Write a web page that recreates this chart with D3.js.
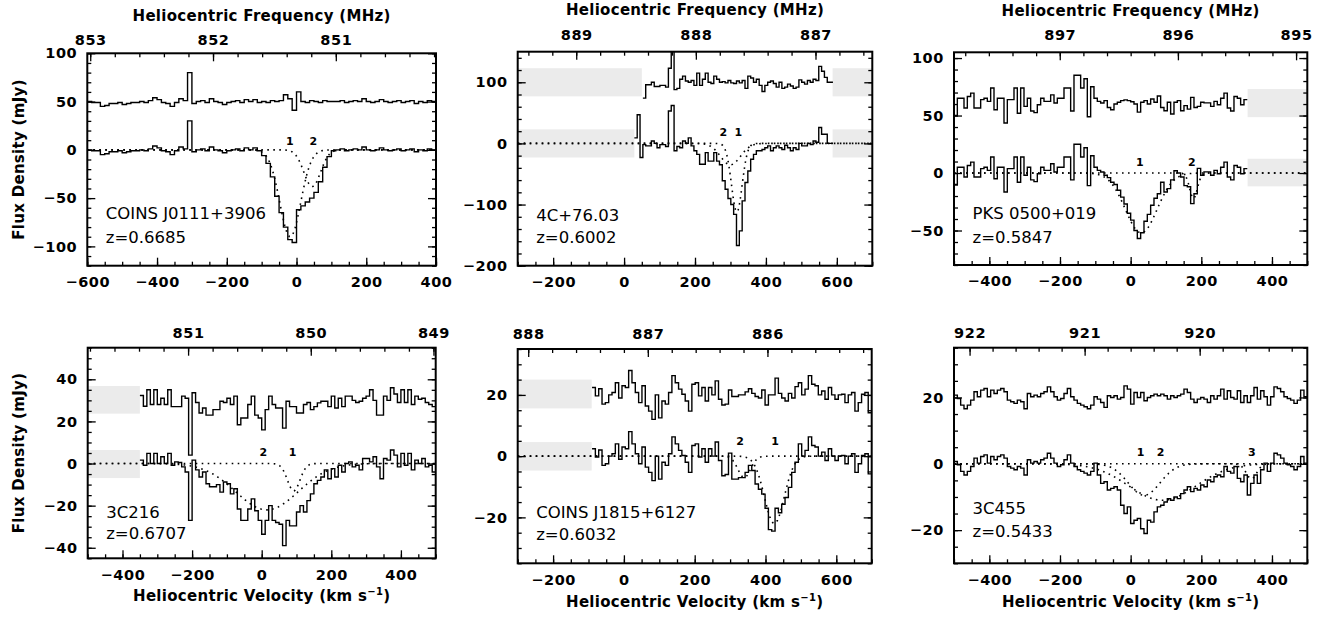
<!DOCTYPE html>
<html>
<head>
<meta charset="utf-8">
<script src="https://cdn.jsdelivr.net/npm/d3@7"></script>
<style>
  body { margin: 0; background: #fff; }
  svg { display: block; font-family: "DejaVu Sans", sans-serif; }
  .tick text { font-family: "DejaVu Sans", sans-serif; font-weight: bold; font-size: 14.5px; letter-spacing: 0.6px; fill: #000; }
  .tick line { stroke: #000; stroke-width: 1.3; }
  .axisTitle { font-weight: bold; font-size: 15px; letter-spacing: 0.3px; }
  .srcText { font-size: 16.5px; }
  .compText { font-weight: bold; font-size: 11px; }
</style>
</head>
<body>
<div id="chart"></div>
<script>
// HI ABSORPTION SPECTRA, SIX PANELS

// 1. Data (flux in mJy, channels in km/s)
var lightSpeed = 299792.458;

// Panel 1: COINS J0111+3906
var p1Start = -600;
var p1Chan = 12.5;
var p1Spectrum = [0,-1,-1,-5,-4,-2,-2,-1,-3,-2, -1,-1,0,-1,1,4,2,-1,-2,-5, -1,3,1,30,-2,0,1,-1,3,0,
  -1,-3,-1,0,1,-1,2,0,2,-1, -6,-14,-28,-48,-65,-80,-93,-96,-62,-58, -54,-50,-44,-33,-18,-7,-1,0,1,-1,
  0,1,0,3,0,-1,0,2,0,-1, 0,1,-1,0,1,-2,0,-1,1,0];
var p1Residual = [0,-1,-1,-5,-4,-2,-2,-1,-3,-2, -1,-1,0,-1,1,4,2,-1,-2,-5, -1,3,1,30,-2,0,1,-1,3,0,
  -1,-3,-1,0,1,-1,2,0,2,-1, 0,-1,1,0,1,7,3,-9,10,0, -1,1,0,-1,1,0,0,0,1,-1,
  0,1,0,3,0,-1,0,2,0,-1, 0,1,-1,0,1,-2,0,-1,1,0];
var p1FitCentre = [-18, 45];
var p1FitDepth = [-90, -38];
var p1FitSigma = [30, 24];
var p1Comps = ["1", "2"];
var p1CompVel = [-19, 48];
var p1Blanked = [];

// Panel 2: 4C+76.03
var p2Start = 29;
var p2Chan = 8;
var p2Spectrum = [9,47,-23,-2,-4,-4,4,0,-7,-2, -2,-5,53,62,-12,-5,-7,4,0,9, -4,-12,-18,-34,-34,-15,-29,-29,-15,-29,
  -35,-61,-75,-90,-100,-116,-167,-143,-94,-64, -45,-26,-18,-12,-12,-10,-7,-4,-12,-7,
  -4,-7,-10,-3,-7,-12,-7,-10,0,-4, -4,0,-2,4,2,26,15,15,0,0];
var p2Residual = [null,null,null,-26,-4,-4,0,-7,-7,-5, -5,-8,23,60,-12,-10,5,10,2,0, 3,-5,15,-5,5,15,0,-2,10,5,
  0,1,-1,3,-1,-2,2,-1,3,-10, 10,7,0,5,-5,-15,-5,0,2,-2,
  -8,0,-10,-8,-3,-6,-10,-8,4,0, -3,3,0,5,3,26,18,8,0,0];
var p2FitCentre = [318, 300];
var p2FitDepth = [-112, -35];
var p2FitSigma = [15, 28];
var p2Comps = ["2", "1"];
var p2CompVel = [280, 322];
var p2Blanked = [[-300, 50, 77, 123], [-300, 29, -23, 23], [588, 700, 77, 123], [588, 700, -23, 23]];

// Panel 3: PKS 0500+019
var p3Start = -500;
var p3Chan = 9.434;
var p3Spectrum = [-10,5,5,-3.5,6.6,9.5,-3.5,-3.5,3.8,5, 2.3,14,-5,5,5,-16.5,3.8,3.8,14,-8,
  14,-2,5,-6,-7.5,-0.6,5,2.3,2.3,8, 0.9,5,5,14,14,-6,25,25,14,22,
  -11,15,5,2.3,0.9,-2,-4,-8,-10,-15, -21,-27,-35,-41,-50,-57,-52,-42,-36,-28,
  -22,-18,-8,-16.5,-13.6,-6,2,0,-3.5,-11, -12,-26.6,-18,4,-2,1,1,-2,2.3,-0.6,
  5,9.5,-3.5,-6,6.6,5,-0.6,3.8];
var p3Residual = [-10,5,5,-3.5,6.6,9.5,-3.5,-3.5,3.8,5, 2.3,14,-5,5,5,-16.5,3.8,3.8,14,-8,
  14,-2,5,-6,-7.5,-0.6,5,2.3,2.3,8, 0.9,5,5,14,14,-6,25,25,14,22,
  -11,15,5,2.3,0.9,3,-3,-5,0,1.5, 3,3.6,3,2,0,-7,1.5,3,0,4.4,
  1.5,7,-3,-5.8,1.5,-8.6,1.5,3,-5.8,-1.4, -4.4,5.8,-3,-2,1.5,1,1,-2,2.3,-0.6,
  5,9.5,-3.5,-6,6.6,5,-0.6,3.8];
var p3FitCentre = [30, 178];
var p3FitDepth = [-52, -22];
var p3FitSigma = [45, 11];
var p3Comps = ["1", "2"];
var p3CompVel = [26, 173];
var p3Blanked = [[331, 500, 48.6, 73], [331, 500, -11.6, 12.4]];

// Panel 4: 3C216
var p4Start = -350;
var p4Chan = 10;
var p4Spectrum = [1.6,-0.8,4.8,0,4.8,0,3.2,0,4.8,-0.8, 0.8,0.5,-1.6,-4,-27,1.6,-3,-6.4,-4,-9.6,
  -11,-11,-10,-13.6,-8.8,-9.6,-14.4,-12,-21.6,-27, -27,-21.6,-16.8,-22.4,-27,-33.6,-27,-20,-27,-28,
  -28.8,-39,-27,-29.6,-29.6,-23,-20,-23,-17.6,-14.4, -9.6,-8,-6.4,-3,-7.2,-2.4,-6.4,-0.8,-4,0,
  0.8,-1.6,-0.8,-3,2.4,2.4,0.8,3.2,-1.6,-7.2, 2.4,1.6,6.4,4,-1.6,4.8,-0.8,4.8,-3,1.6,
  0,2.4,-1.6,-0.8,-4];
var p4Residual = [2.3,-2.8,5,-2,5,-2,1,-2,5,-3, -3,-3,2,1,-26,3.6,-1,-6,-3.6,-7,
  -7,-4.4,-4.4,-0.4,-1,1,-2,2,-11.6,-8.4, -8.4,-2,2,-7,-8.4,-14,-4.4,2,-2,-3.6,
  -3.6,-13.2,-0.4,-3,-3,-6,-6,-2,-1,-4.4, -3,-1.2,-0.4,-0.4,-3,2,-3.6,1,-3,2,
  2,0,-1,-0.4,1,2,5,0,-7,-7, 2,0,6,3,-1,5,-1,5,-2,2,
  0.5,1,-1,-2,-3];
var p4FitCentre = [92, 15];
var p4FitDepth = [-13, -22];
var p4FitSigma = [18, 90];
var p4Comps = ["2", "1"];
var p4CompVel = [5, 89];
var p4Blanked = [[-500, -350, 23.7, 36.8], [-500, -350, -6.9, 6.4]];

// Panel 5: COINS J1815+6127
var p5Start = -90;
var p5Chan = 9.4;
var p5Spectrum = [2.4,-0.3,2,-3,-2.5,0,0.8,4,-1,3, 2.4,8,4,0.8,-2.5,3,-3.6,-5.3,-8,0,
  -7.5,-2,-3,0.8,6.3,4,1.9,0.2,-2,-5.3, 3.5,4,-0.3,2.4,-2,2.4,0,4.6,-1.4,-6.4,
  -6,1,-7.5,-7.5,-7,-7,-5.3,-3,-4.7,-9.1, -10.8,-12.4,-17,-24,-24.5,-17,-18.5,-15.7,-13.5,-10.2,
  -5.3,-2,4,0,1.9,6.3,3.5,3,0,1.3, -1.4,2.4,0,-1.4,0,0.2,-2.5,0,0.8,-5.3,
  -2.5,0.2,0.8,-5.8];
var p5Residual = [2.4,-0.3,2,-3,-2.5,0,0.8,4,-1,3, 2.4,8,4,0.8,-2.5,3,-3.6,-5.3,-8,0,
  -7.5,-2,-3,0.8,6.3,4,1.9,0.2,-2,-5.3, 3.5,4,-0.3,2.4,-2,2.4,0,4.6,-1.4,-3.3,
  -3,1.6,-0.5,-0.5,0,0,1,2,0.5,-0.5, -1,1.6,-3.3,0,0,5.5,0.5,-1,-2,0.5,
  -1,2.7,4,0,1.9,6.3,3.5,3,0,1.3, -1.4,2.4,0,-1.4,0,0.2,-2.5,0,0.8,-5.3,
  -2.5,0.2,0.8,-5.8];
var p5FitCentre = [425, 340];
var p5FitDepth = [-22, -7];
var p5FitSigma = [28, 18];
var p5Comps = ["2", "1"];
var p5CompVel = [328, 427];
var p5Blanked = [[-300, -91, 15.6, 25], [-300, -91, -4.7, 4.6]];

// Panel 6: 3C455
var p6Start = -500;
var p6Chan = 9.434;
var p6Spectrum = [0.7,-0.3,-2.3,-3.4,-2.3,-0.8,1.7,0.2,2.2,2.7, 0.2,2.2,1.2,2.2,2.7,1.7,-0.8,-1.3,-1.8,-0.8,
  -1.3,-3.4,1.2,0.2,0.7,0.2,1.2,1.7,3.2,1.7, 0.2,-0.8,-0.3,1.2,2.7,0.2,-0.8,-1.8,-2.3,-2.8,
  -3.4,-2.3,0.2,-3.4,-5.9,-5.4,-7.9,-7.4,-6.9,-7.9, -12.5,-15,-13,-18,-17,-16.5,-19.6,-21,-17,-17.6,
  -14.5,-13,-12.5,-11.5,-10.5,-11,-10,-10.5,-9,-7.9, -6.9,-8.4,-7.4,-7.9,-6.4,-6.9,-4.9,-5.4,-3.9,-3.4,
  -3.9,-0.8,-2.3,-2.8,-0.8,-4.4,-5.4,-3.4,-9.4,-5.9, -3.4,-5.9,-1.8,0.2,-2.3,0.2,3.2,2.7,1.7,0.2,
  -0.3,-0.8,-1.8,-0.8,2.2,0.2];
var p6Residual = [0.7,-0.3,-2.3,-3.4,-2.3,-0.8,1.7,0.2,2.2,2.7, 0.2,2.2,1.2,2.2,2.7,1.7,-0.8,-1.3,-1.8,-0.8,
  -1.3,-3.4,1.2,0.2,0.7,0.2,1.2,1.7,3.2,1.7, 0.2,-0.8,-0.3,1.2,2.7,0.2,-0.8,-1.8,-2.3,-2.8,
  -3.4,-2.3,0.2,-0.5,-1.5,-3,0.5,0,0.5,-0.5, 0,3.5,2.5,-2,1.5,0,1.5,-1,0,0.5,
  1,0.5,1,0.5,-0.5,0.5,0,0.5,1,2.5, 1.5,-0.5,-1.5,-0.5,0,-0.5,-1.5,0.5,-0.5,0.5,
  2.5,-0.5,2,0,-0.5,2,-1.5,0.5,-1.5,0.5, 3,-0.5,2,0.2,-2.3,0.2,3.2,2.7,1.7,0.2,
  -0.3,-0.8,-1.8,-0.8,2.2,0.2];
var p6FitCentre = [38, 90, 342];
var p6FitDepth = [-9.5, -11, -4.5];
var p6FitSigma = [45, 95, 15];
var p6Comps = ["1", "2", "3"];
var p6CompVel = [28, 85, 343];
var p6Blanked = [];

// 2. Panel layout (frame = left, top, right, bottom in px)
var panels = [
  { id: 1, name: "COINS J0111+3906", z: "z=0.6685", frame: [87.3, 53.3, 436, 265.7],
    vel: [-600, 400], flux: [-120, 100], yMajor: 50, yMinor: 10, restFreq: 851.32, offset: 50,
    start: p1Start, chan: p1Chan, spec: p1Spectrum, resid: p1Residual,
    cen: p1FitCentre, depth: p1FitDepth, sig: p1FitSigma, comps: p1Comps, compVel: p1CompVel, compFlux: 9.3,
    blanked: p1Blanked, topPad: 8.5, nameY: 218.8, zY: 242.8, topTitle: 15, yTitle: true },
  { id: 2, name: "4C+76.03", z: "z=0.6002", frame: [517.7, 51.7, 872.3, 265.7],
    vel: [-300, 700], flux: [-200, 150], yMajor: 100, yMinor: 20, restFreq: 888.60, offset: 100,
    start: p2Start, chan: p2Chan, spec: p2Spectrum, resid: p2Residual,
    cen: p2FitCentre, depth: p2FitDepth, sig: p2FitSigma, comps: p2Comps, compVel: p2CompVel, compFlux: 18.5,
    blanked: p2Blanked, topPad: 11.5, nameY: 220.8, zY: 243.1, topTitle: 9 },
  { id: 3, name: "PKS 0500+019", z: "z=0.5847", frame: [954, 52.3, 1307.3, 265],
    vel: [-500, 500], flux: [-80, 105], yMajor: 50, yMinor: 10, restFreq: 896.40, offset: 60,
    start: p3Start, chan: p3Chan, spec: p3Spectrum, resid: p3Residual,
    cen: p3FitCentre, depth: p3FitDepth, sig: p3FitSigma, comps: p3Comps, compVel: p3CompVel, compFlux: 9.5,
    blanked: p3Blanked, topPad: 12, nameY: 219.1, zY: 243.1, topTitle: 10 },
  { id: 4, name: "3C216", z: "z=0.6707", frame: [87.7, 347.7, 435.7, 558.3],
    vel: [-500, 500], flux: [-45, 55], yMajor: 20, yMinor: 5, restFreq: 850.40, offset: 30,
    start: p4Start, chan: p4Chan, spec: p4Spectrum, resid: p4Residual,
    cen: p4FitCentre, depth: p4FitDepth, sig: p4FitSigma, comps: p4Comps, compVel: p4CompVel, compFlux: 5.5,
    blanked: p4Blanked, topPad: 9.5, nameY: 517.5, zY: 539.1, bottomTitle: 595, yTitle: true },
  { id: 5, name: "COINS J1815+6127", z: "z=0.6032", frame: [517.7, 349, 871.7, 563.3],
    vel: [-300, 700], flux: [-35, 35], yMajor: 20, yMinor: 5, restFreq: 887.20, offset: 20,
    start: p5Start, chan: p5Chan, spec: p5Spectrum, resid: p5Residual,
    cen: p5FitCentre, depth: p5FitDepth, sig: p5FitSigma, comps: p5Comps, compVel: p5CompVel, compFlux: 4.9,
    blanked: p5Blanked, topPad: 10.5, nameY: 517.5, zY: 540.1, bottomTitle: 601.7 },
  { id: 6, name: "3C455", z: "z=0.5433", frame: [954, 347.7, 1307.3, 563.3],
    vel: [-500, 500], flux: [-30, 35], yMajor: 20, yMinor: 5, restFreq: 920.60, offset: 20,
    start: p6Start, chan: p6Chan, spec: p6Spectrum, resid: p6Residual,
    cen: p6FitCentre, depth: p6FitDepth, sig: p6FitSigma, comps: p6Comps, compVel: p6CompVel, compFlux: 3.7,
    blanked: p6Blanked, topPad: 9.5, nameY: 514.1, zY: 536.5, bottomTitle: 601.7 }
];

// 3. SVG
var svg = d3.select("#chart").append("svg")
  .attr("width", 1329)
  .attr("height", 618);

// tick values that are multiples of step inside [lo, hi]
function stepValues(lo, hi, step) {
  var a = Math.min(lo, hi), b = Math.max(lo, hi);
  return d3.range(Math.ceil(a / step - 1e-9), Math.floor(b / step + 1e-9) + 1)
    .map(k => +(k * step).toFixed(4));
}

// channel edges for a step plot
function stepPoints(start, chan, vals, off) {
  var pts = vals.map((d, i) => [start + i * chan, d == null ? null : d + off]);
  var last = vals[vals.length - 1];
  pts.push([start + vals.length * chan, last == null ? null : last + off]);
  return pts;
}

function drawPanel(p) {
  var left = p.frame[0], top = p.frame[1], right = p.frame[2], bottom = p.frame[3];

  var xScale = d3.scaleLinear().domain(p.vel).range([left, right]);
  var yScale = d3.scaleLinear().domain(p.flux).range([bottom, top]);
  var fScale = d3.scaleLinear()
    .domain([p.restFreq * (1 - p.vel[0] / lightSpeed), p.restFreq * (1 - p.vel[1] / lightSpeed)])
    .range([left, right]);

  var g = svg.append("g");

  g.append("clipPath").attr("id", "clip" + p.id)
    .append("rect")
    .attr("x", left).attr("y", top)
    .attr("width", right - left).attr("height", bottom - top);

  var plot = g.append("g").attr("clip-path", `url(#clip${p.id})`);

  // blanked channels
  plot.selectAll(".blank")
    .data(p.blanked)
    .enter()
    .append("rect")
    .attr("x", d => xScale(d[0]))
    .attr("width", d => xScale(d[1]) - xScale(d[0]))
    .attr("y", d => yScale(d[3]))
    .attr("height", d => yScale(d[2]) - yScale(d[3]))
    .attr("fill", "#ebebeb");

  // gaussian components (dotted)
  var fitLine = d3.line().x(d => xScale(d[0])).y(d => yScale(d[1]));
  var fitVel = d3.range(p.vel[0], p.vel[1] + 1, 2);
  p.cen.forEach(function (cen, i) {
    var pts = fitVel.map(v => [v, p.depth[i] * Math.exp(-0.5 * Math.pow((v - cen) / p.sig[i], 2))]);
    plot.append("path")
      .attr("d", fitLine(pts))
      .attr("fill", "none")
      .attr("stroke", "#000")
      .attr("stroke-width", 1.6)
      .attr("stroke-dasharray", "1.6 4.4");
  });

  // spectrum and residual (step lines)
  var stepLine = d3.line()
    .defined(d => d[1] != null)
    .x(d => xScale(d[0]))
    .y(d => yScale(d[1]))
    .curve(d3.curveStepAfter);

  plot.append("path")
    .attr("d", stepLine(stepPoints(p.start, p.chan, p.spec, 0)))
    .attr("fill", "none").attr("stroke", "#000").attr("stroke-width", 1.4);

  plot.append("path")
    .attr("d", stepLine(stepPoints(p.start, p.chan, p.resid, p.offset)))
    .attr("fill", "none").attr("stroke", "#000").attr("stroke-width", 1.4);

  // component numbers
  g.selectAll(".comp")
    .data(p.comps)
    .enter()
    .append("text")
    .attr("class", "compText")
    .attr("x", (d, i) => xScale(p.compVel[i]))
    .attr("y", yScale(p.compFlux) + 4)
    .attr("text-anchor", "middle")
    .text(d => d);

  // axes, ticks inside the frame
  function addAxis(axis, tx, ty) {
    var a = g.append("g").attr("transform", `translate(${tx},${ty})`).call(axis);
    a.select(".domain").remove();
    return a;
  }
  var fmt = d3.format("d");

  addAxis(d3.axisBottom(xScale).tickValues(stepValues(p.vel[0], p.vel[1], 200))
    .tickSize(-8).tickPadding(11).tickFormat(fmt), 0, bottom);
  addAxis(d3.axisBottom(xScale).tickValues(stepValues(p.vel[0], p.vel[1], 50))
    .tickSize(-4).tickFormat(""), 0, bottom);

  var fDom = fScale.domain();
  addAxis(d3.axisTop(fScale).tickValues(stepValues(fDom[0], fDom[1], 1))
    .tickSize(-8).tickPadding(p.topPad).tickFormat(fmt), 0, top);
  addAxis(d3.axisTop(fScale).tickValues(stepValues(fDom[0], fDom[1], 0.2))
    .tickSize(-4).tickFormat(""), 0, top);

  addAxis(d3.axisLeft(yScale).tickValues(stepValues(p.flux[0], p.flux[1], p.yMajor))
    .tickSize(-8).tickPadding(10).tickFormat(fmt), left, 0);
  addAxis(d3.axisLeft(yScale).tickValues(stepValues(p.flux[0], p.flux[1], p.yMinor))
    .tickSize(-4).tickFormat(""), left, 0);

  addAxis(d3.axisRight(yScale).tickValues(stepValues(p.flux[0], p.flux[1], p.yMajor))
    .tickSize(-8).tickFormat(""), right, 0);
  addAxis(d3.axisRight(yScale).tickValues(stepValues(p.flux[0], p.flux[1], p.yMinor))
    .tickSize(-4).tickFormat(""), right, 0);

  // frame
  g.append("rect")
    .attr("x", left).attr("y", top)
    .attr("width", right - left).attr("height", bottom - top)
    .attr("fill", "none").attr("stroke", "#000").attr("stroke-width", 2);

  // source name and redshift
  g.append("text").attr("class", "srcText")
    .attr("x", left + 18.5).attr("y", p.nameY).text(p.name);
  g.append("text").attr("class", "srcText")
    .attr("x", left + 18.5).attr("y", p.zY).text(p.z);

  var midX = (left + right) / 2;

  if (p.topTitle) {
    g.append("text").attr("class", "axisTitle")
      .attr("x", midX).attr("y", p.topTitle + 5.5)
      .attr("text-anchor", "middle")
      .text("Heliocentric Frequency (MHz)");
  }

  if (p.bottomTitle) {
    var t = g.append("text").attr("class", "axisTitle")
      .attr("x", midX).attr("y", p.bottomTitle + 5.5)
      .attr("text-anchor", "middle")
      .text("Heliocentric Velocity (km s");
    t.append("tspan").attr("dy", -6).attr("font-size", 10).text("\u22121");
    t.append("tspan").attr("dy", 6).text(")");
  }

  if (p.yTitle) {
    g.append("text").attr("class", "axisTitle")
      .attr("transform", `translate(23.5, ${(top + bottom) / 2}) rotate(-90)`)
      .attr("text-anchor", "middle")
      .text("Flux Density (mJy)");
  }
}

panels.forEach(drawPanel);
</script>
</body>
</html>
